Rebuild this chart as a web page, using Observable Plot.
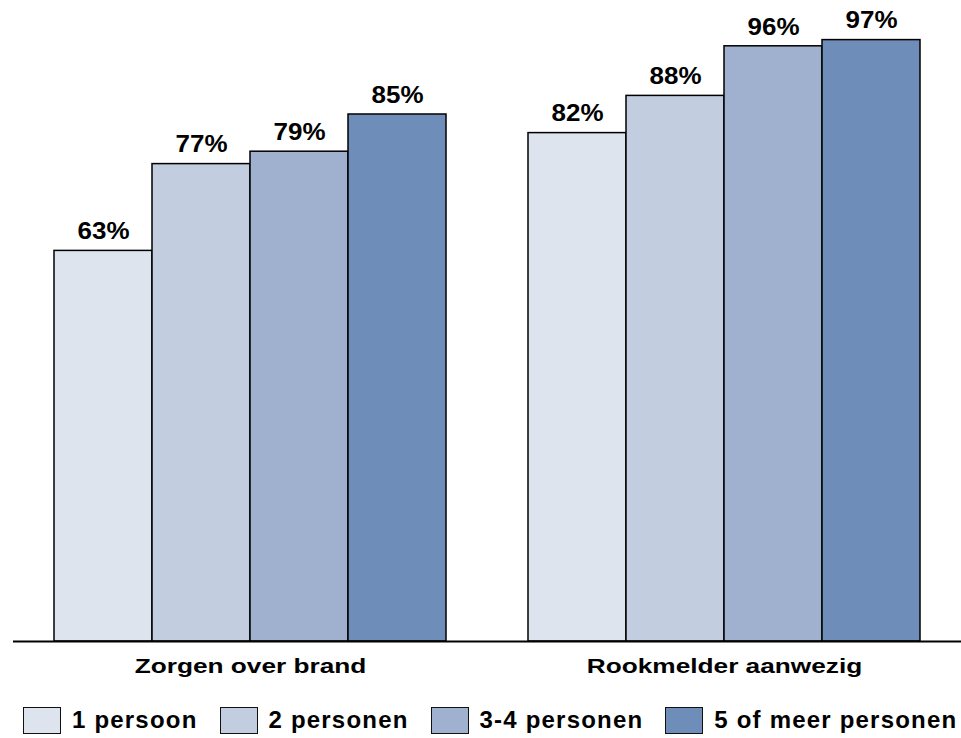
<!DOCTYPE html>
<html>
<head>
<meta charset="utf-8">
<script src="https://cdn.jsdelivr.net/npm/d3@7"></script>
<script src="https://cdn.jsdelivr.net/npm/@observablehq/plot@0.6"></script>
<style>
  body { margin: 0; background: #fff; font-family: "Liberation Sans", Arial, sans-serif; }
  #chart svg { display: block; }
  .legend { display: flex; align-items: center; height: 28px; margin-top: 16px; padding-left: 23px; font-weight: bold; font-size: 24px; letter-spacing: 1.2px; color: #000; white-space: nowrap; }
  .legend .item { display: flex; align-items: center; margin-right: 22px; }
  .legend .sw { width: 38px; height: 27px; border: 1.7px solid #111; margin-right: 11px; box-sizing: border-box; flex: none; }
</style>
</head>
<body>
<div id="chart"></div>
<div class="legend" id="legend"></div>
<script>
const groups = ["Zorgen over brand", "Rookmelder aanwezig"];
const seriesNames = ["1 persoon", "2 personen", "3-4 personen", "5 of meer personen"];
const zorgenValues = [63, 77, 79, 85];
const rookmelderValues = [82, 88, 96, 97];
const colors = ["#dde4ee", "#c3cde0", "#9fb1cf", "#6f8db9"];

const valuesByGroup = [zorgenValues, rookmelderValues];
const data = groups.flatMap((g, gi) => seriesNames.map((s, si) => ({group: g, series: s, value: valuesByGroup[gi][si]})));

const plot = Plot.plot({
  width: 961,
  height: 690,
  marginTop: 21,
  marginBottom: 49,
  marginLeft: 13,
  marginRight: 0,
  style: {fontFamily: "'Liberation Sans', Arial, sans-serif", fontWeight: "bold", color: "#000"},
  fx: {domain: groups, paddingInner: 80 / 474, paddingOuter: 40 / 474, label: null, axis: "bottom", tickSize: 0, tickPadding: 17},
  x: {domain: seriesNames, padding: 0, axis: null},
  y: {domain: [0, 100], axis: null},
  color: {domain: seriesNames, range: colors},
  marks: [
    Plot.barY(data, {fx: "group", x: "series", y: "value", fill: "series", stroke: "#000", strokeWidth: 1.5}),
    Plot.text(data, {fx: "group", x: "series", y: "value", text: d => d.value + "%", dy: -19, lineAnchor: "middle", fontSize: 23, fontWeight: "bold", fill: "#000"}),
    Plot.ruleY([0], {stroke: "#000", strokeWidth: 2, insetLeft: -40, insetRight: -40})
  ]
});

// horizontal stretch of the text glyphs, as in the reference
function stretch(el, s) {
  const t = el.getAttribute("transform") || "";
  const x = +el.getAttribute("x") || 0;
  el.setAttribute("transform", `${t} translate(${x},0) scale(${s},1) translate(${-x},0)`);
}
plot.querySelectorAll('g[aria-label="text"] text').forEach(el => stretch(el, 1.13));
plot.querySelectorAll('g[aria-label="fx-axis tick label"]').forEach(g => { g.style.fontSize = "20.5px"; g.setAttribute("font-size", "20.5"); });
plot.querySelectorAll('g[aria-label="fx-axis tick label"] text').forEach(el => { el.style.fontSize = "20.5px"; stretch(el, 1.28); });

document.getElementById("chart").append(plot);

const legend = document.getElementById("legend");
seriesNames.forEach((s, i) => {
  const item = document.createElement("div");
  item.className = "item";
  const sw = document.createElement("div");
  sw.className = "sw";
  sw.style.background = colors[i];
  const lab = document.createElement("span");
  lab.textContent = s;
  item.append(sw, lab);
  legend.append(item);
});
</script>
</body>
</html>
